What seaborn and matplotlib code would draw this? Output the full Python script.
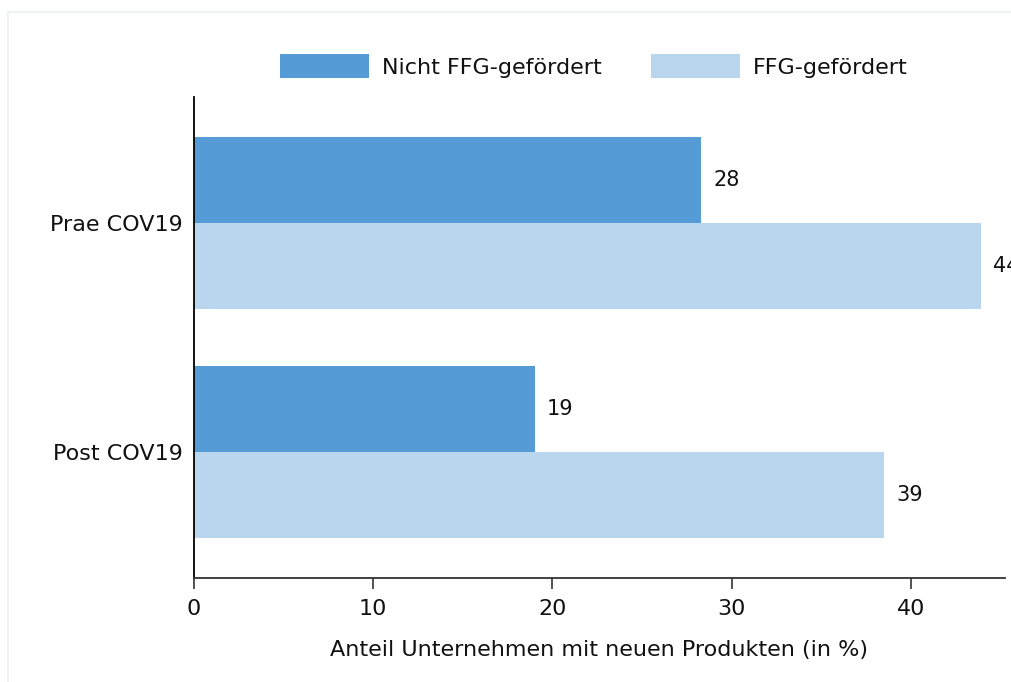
import pandas as pd
import seaborn as sns
import matplotlib.pyplot as plt
from matplotlib.lines import Line2D

# data
periods = ['Prae COV19', 'Post COV19']
groups = ['Nicht FFG-gefördert', 'FFG-gefördert']
nicht_ffg = [28.3, 19.0]
ffg = [43.9, 38.5]
shown_labels = {'Nicht FFG-gefördert': [28, 19], 'FFG-gefördert': [44, 39]}

df = pd.DataFrame({
    'period': periods * 2,
    'group': [groups[0]] * 2 + [groups[1]] * 2,
    'value': nicht_ffg + ffg,
})

sns.set_style('white')
plt.rcParams['font.family'] = ['DejaVu Sans']
plt.rcParams['text.color'] = '#111111'
plt.rcParams['axes.labelcolor'] = '#111111'
plt.rcParams['xtick.color'] = '#111111'
plt.rcParams['ytick.color'] = '#111111'

W, H = 1012, 682
fig = plt.figure(figsize=(W / 100, H / 100), dpi=100)
ax = fig.add_axes([194 / W, 1 - 578 / H, (1005 - 194) / W, (578 - 97) / H])

# faint frame lines (top and left) around the chart
fig.lines.append(Line2D([8 / W, 1], [1 - 12 / H, 1 - 12 / H], transform=fig.transFigure,
                        color='#EEF2F2', linewidth=1.5, zorder=0))
fig.lines.append(Line2D([8 / W, 8 / W], [0, 1 - 12 / H], transform=fig.transFigure,
                        color='#EEF2F2', linewidth=1.5, zorder=0))

sns.barplot(data=df, x='value', y='period', hue='group', order=periods, hue_order=groups,
            palette=['#559CD6', '#BAD6EE'], width=0.75, orient='h', ax=ax,
            saturation=1, errorbar=None, legend=True, linewidth=0)

for cont, g in zip(ax.containers, groups):
    ax.bar_label(cont, labels=[str(v) for v in shown_labels[g]], padding=9,
                 fontsize=15, color='#111111', clip_on=False)

ax.set_xlim(0, 45.25)
ax.set_ylim(1.55, -0.55)
ax.set_xticks([0, 10, 20, 30, 40])
ax.set_xlabel('Anteil Unternehmen mit neuen Produkten (in %)', fontsize=16, labelpad=15)
ax.set_ylabel('')
ax.tick_params(axis='x', bottom=True, labelsize=16, length=8, width=1.2, color='#333333', pad=7)
ax.tick_params(axis='y', left=False, labelsize=16, length=0, pad=8)
sns.despine(ax=ax)
ax.spines['left'].set_color('black')
ax.spines['left'].set_linewidth(1.3)
ax.spines['bottom'].set_color('#333333')
ax.spines['bottom'].set_linewidth(1.3)

ax.legend(loc='lower left', bbox_to_anchor=(86 / 811, 1.039), ncol=2, frameon=False,
          fontsize=16, handlelength=4.0, handleheight=1.27, handletextpad=0.6,
          columnspacing=2.2, borderaxespad=0, borderpad=0)

plt.savefig('out.png', dpi=100)
